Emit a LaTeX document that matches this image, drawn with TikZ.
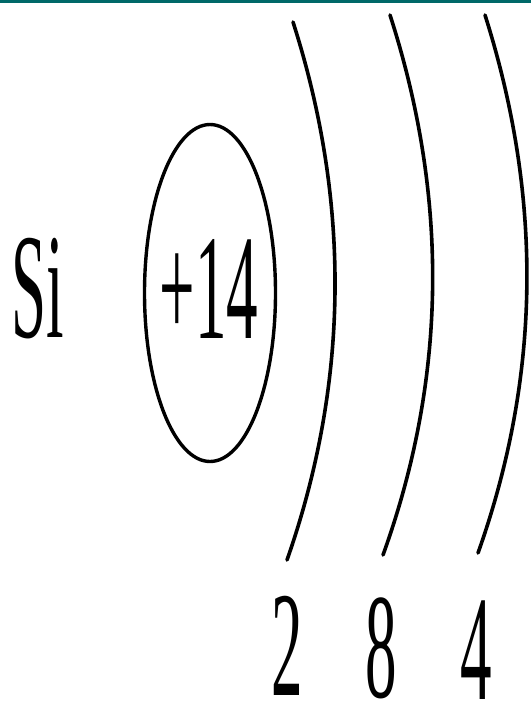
\documentclass[tikz,border=0pt]{standalone}
\usepackage{fontspec}
\setmainfont{Liberation Serif}
\usepackage{graphicx}
\usepackage{tikz}
\usetikzlibrary{shapes,positioning}

\definecolor{barteal}{RGB}{0,104,104}
\newcommand{\slim}[1]{\scalebox{0.42}[1]{#1}}

\begin{document}
\begin{tikzpicture}[
    x=1pt, y=-1pt,
    big/.style={anchor=base, inner sep=0pt, text depth=0pt, font=\fontsize{150}{150}\selectfont},
    nucleus/.style={ellipse, draw, line width=3.4pt, minimum width=131pt, minimum height=337pt, inner sep=0pt},
    shell/.style={line width=3.6pt, line cap=round}
]
    \useasboundingbox (0,0) rectangle (531,709);

    % Balken oben
    \fill[barteal] (0,0) rectangle (531,3);

    % Symbol und Kern
    \node[big] (sym) at (38,337) {\slim{Si}};
    \node[nucleus] (nuc) at (210,293) {};
    \node[big] (charge) at (209,338) {\slim{+14}};

    % Schalen
    \draw[shell] (293,22) .. controls (350,200) and (350,380) .. (287,560);
    \draw[shell] (390,15) .. controls (448,195) and (448,375) .. (383,555);
    \draw[shell] (485,15) .. controls (542,195) and (542,373) .. (478,553);

    % Elektronen
    \node[big] (n1) at (287,695) {\slim{2}};
    \node[big] (n2) at (381,697) {\slim{8}};
    \node[big] (n3) at (476,699) {\slim{4}};
\end{tikzpicture}
\end{document}
